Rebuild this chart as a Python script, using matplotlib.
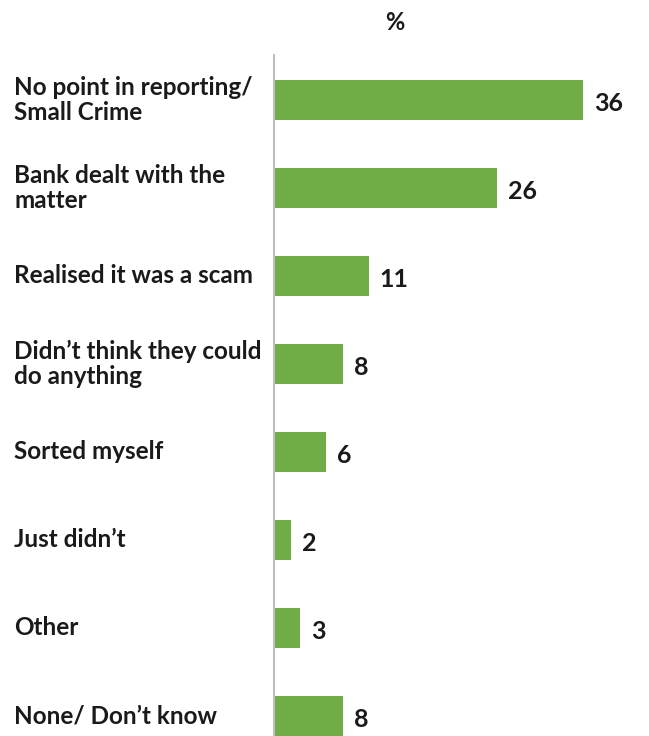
import matplotlib.pyplot as plt
from matplotlib.transforms import blended_transform_factory, offset_copy

# Reasons for not reporting, top to bottom
reasons = [
    "No point in reporting/\nSmall Crime",
    "Bank dealt with the\nmatter",
    "Realised it was a scam",
    "Didn\u2019t think they could\ndo anything",
    "Sorted myself",
    "Just didn\u2019t",
    "Other",
    "None/ Don\u2019t know",
]
percent = [36, 26, 11, 8, 6, 2, 3, 8]

plt.rcParams['font.family'] = ['Lato', 'DejaVu Sans']

fig = plt.figure(figsize=(6.49, 7.36), dpi=100)
ax = fig.add_axes([274 / 649, 0.0, 348 / 649, 1 - 55 / 736])

ypos = list(range(len(reasons)))
ax.barh(ypos, percent, height=0.46, color='#70AD47')

ax.set_xlim(0, 40.5)
ax.set_ylim(7.23, -0.51)
ax.set_xticks([])
ax.set_yticks([])
for side in ['top', 'right', 'bottom']:
    ax.spines[side].set_visible(False)
ax.spines['left'].set_color('#BFBFBF')
ax.spines['left'].set_linewidth(1.5)

# category labels, left aligned at the figure edge
label_tr = blended_transform_factory(fig.transFigure, ax.transData)
for y, txt in zip(ypos, reasons):
    ax.text(0.022, y, txt, transform=label_tr, ha='left', va='center',
            fontsize=17.5, fontweight='bold', color='#1a1a1a', linespacing=1.1)

# value labels just past the bar ends
val_tr = offset_copy(ax.transData, fig=fig, x=11, y=-4, units='dots')
for y, v in zip(ypos, percent):
    ax.text(v, y, str(v), transform=val_tr, ha='left', va='center',
            fontsize=18, fontweight='bold', color='#1a1a1a')

fig.text(395 / 649, 1 - 22 / 736, '%', ha='center', va='center',
         fontsize=17, fontweight='bold', color='#1a1a1a')

fig.savefig('out.png', dpi=100)
